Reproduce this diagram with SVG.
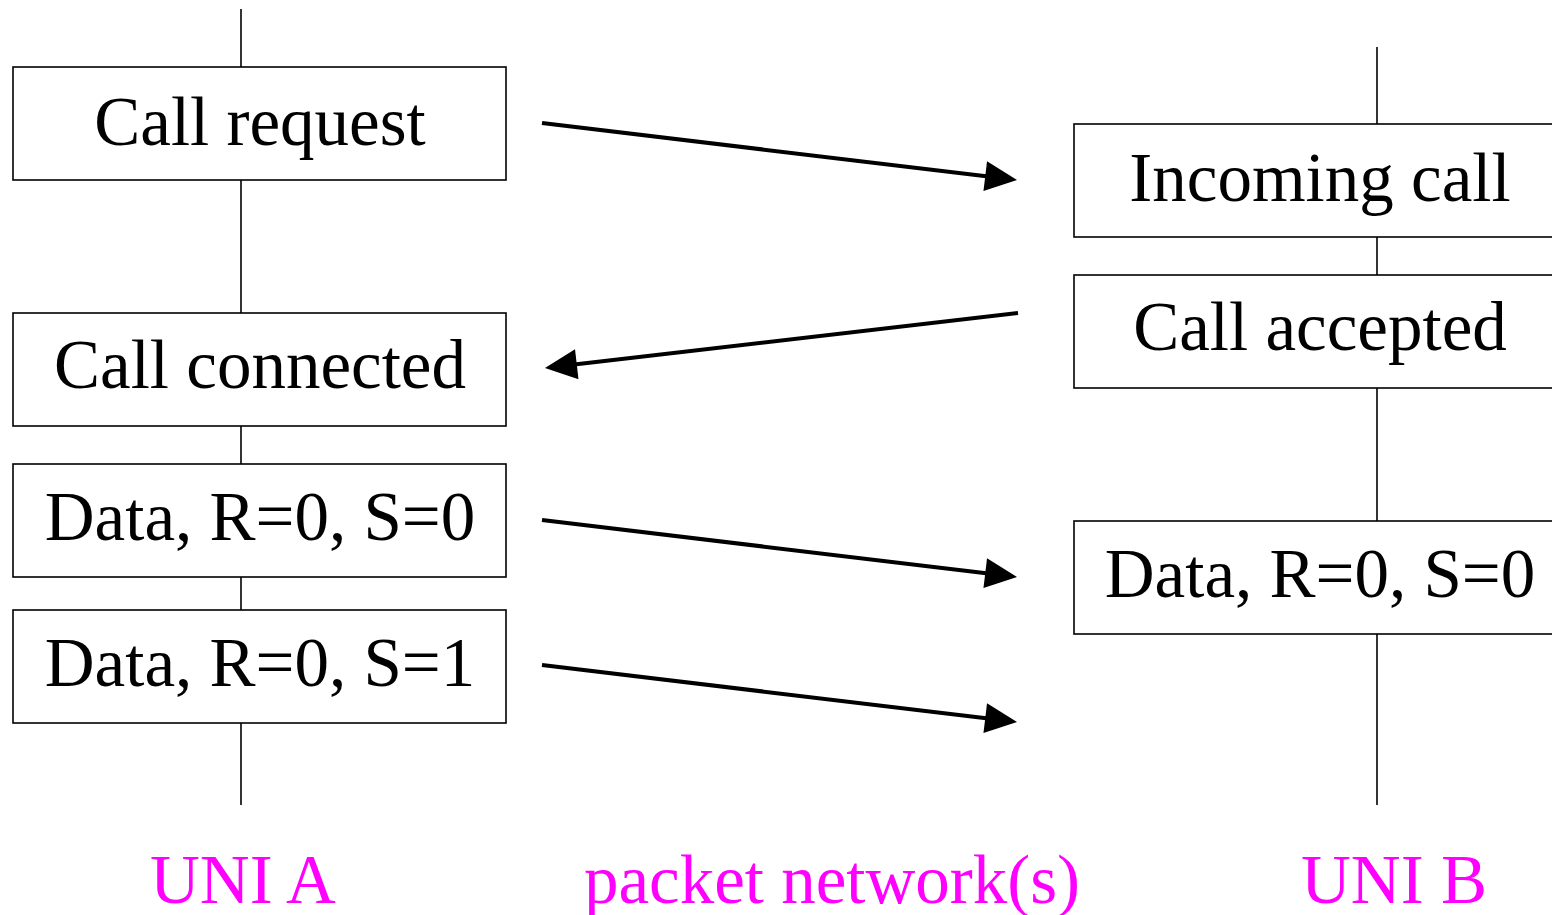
<svg xmlns="http://www.w3.org/2000/svg" width="1552" height="915" viewBox="0 0 1552 915">
<style>
.box{fill:#fff;stroke:#000;stroke-width:1.6}
.life{stroke:#000;stroke-width:1.6;fill:none}
.t{font-family:"Liberation Serif","Times New Roman",serif;font-size:69px;fill:#000;text-anchor:middle}
.lbl{font-family:"Liberation Serif","Times New Roman",serif;font-size:69px;fill:#ff00ff;text-anchor:middle}
.arr{stroke:#000;stroke-width:4;fill:none;marker-end:url(#ah)}
</style>
<defs>
<marker id="ah" markerUnits="userSpaceOnUse" markerWidth="34" markerHeight="30" refX="22" refY="15" orient="auto" overflow="visible">
<path d="M0,0 L32,15 L0,30 Z" fill="#000"/>
</marker>
</defs>
<g id="lifelines">
<line class="life" x1="241" y1="9" x2="241" y2="805"/>
<line class="life" x1="1377" y1="47" x2="1377" y2="805"/>
</g>
<g id="call-request"><rect class="box" x="13" y="67" width="493" height="113"/><text class="t" x="260" y="145">Call request</text></g>
<g id="call-connected"><rect class="box" x="13" y="313" width="493" height="113"/><text class="t" x="260" y="388">Call connected</text></g>
<g id="data-a0"><rect class="box" x="13" y="464" width="493" height="113"/><text class="t" x="260" y="540">Data, R=0, S=0</text></g>
<g id="data-a1"><rect class="box" x="13" y="610" width="493" height="113"/><text class="t" x="260" y="686">Data, R=0, S=1</text></g>
<g id="incoming-call"><rect class="box" x="1074" y="124" width="493" height="113"/><text class="t" x="1320" y="201">Incoming call</text></g>
<g id="call-accepted"><rect class="box" x="1074" y="275" width="493" height="113"/><text class="t" x="1320" y="350">Call accepted</text></g>
<g id="data-b0"><rect class="box" x="1074" y="521" width="493" height="113"/><text class="t" x="1320" y="597">Data, R=0, S=0</text></g>
<g id="connectors">
<line class="arr" x1="542" y1="123" x2="1007.1" y2="178.8"/>
<line class="arr" x1="1018" y1="313" x2="554.9" y2="366.8"/>
<line class="arr" x1="542" y1="520" x2="1007.1" y2="575.8"/>
<line class="arr" x1="542" y1="665" x2="1007.1" y2="720.8"/>
</g>
<g id="labels">
<text class="lbl" x="243" y="903">UNI A</text>
<text class="lbl" x="832" y="903">packet network(s)</text>
<text class="lbl" x="1394" y="903">UNI B</text>
</g>
</svg>
